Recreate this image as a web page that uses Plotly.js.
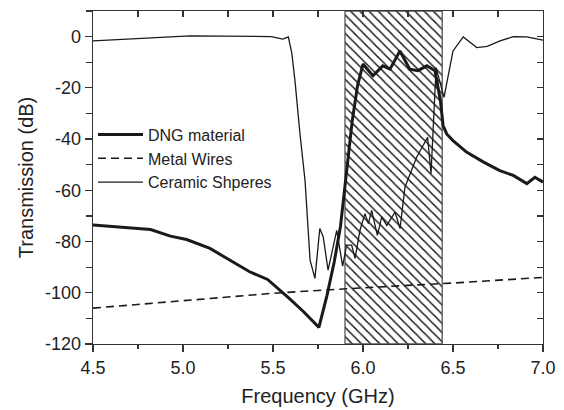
<!DOCTYPE html>
<html>
<head>
<meta charset="utf-8">
<script src="https://cdn.plot.ly/plotly-3.0.1.min.js"></script>
<style>html,body{margin:0;padding:0;background:#fff;}#chart{width:564px;height:410px;}</style>
</head>
<body>
<div id="chart"></div>
<script>
// DNG material (thick solid)
var dngFreq = [4.5, 4.67, 4.82, 4.93, 5.02, 5.15, 5.26, 5.37, 5.47, 5.54, 5.59, 5.67, 5.755, 5.8, 5.84, 5.875, 5.91, 5.94, 5.97, 6.0, 6.055, 6.11, 6.15, 6.205, 6.26, 6.305, 6.355, 6.4, 6.43, 6.445, 6.465, 6.5, 6.575, 6.67, 6.76, 6.835, 6.91, 6.955, 7.0];
var dngDb   = [-73.5, -74.3, -75.3, -77.9, -79.2, -82.7, -87.3, -91.8, -94.8, -99, -102.2, -107.4, -113.5, -101, -88, -74, -52, -33, -19, -10.7, -15.3, -11.4, -12.7, -5.6, -12.7, -13.3, -11.4, -13.3, -25, -34.7, -38, -40.6, -45.1, -49, -52.3, -54.2, -57.4, -54.9, -56.8];
// Metal Wires (dashed)
var wireFreq = [4.5, 4.75, 5.0, 5.25, 5.5, 5.75, 6.0, 6.25, 6.5, 6.75, 7.0];
var wireDb   = [-106, -104.5, -103, -101.5, -100.2, -99.1, -98, -97.1, -96.2, -95.1, -94];
// Ceramic Shperes (thin solid)
var cerFreq = [4.5, 4.85, 5.04, 5.22, 5.49, 5.555, 5.585, 5.604, 5.622, 5.65, 5.678, 5.706, 5.733, 5.76, 5.779, 5.806, 5.854, 5.887, 5.909, 5.937, 5.956, 5.983, 6.011, 6.03, 6.048, 6.08, 6.104, 6.132, 6.178, 6.206, 6.233, 6.298, 6.359, 6.378, 6.406, 6.45, 6.5, 6.557, 6.632, 6.69, 6.761, 6.835, 6.91, 7.0];
var cerDb   = [-1.7, -0.4, 0.3, 0.2, 0, -1, -0.1, -6.2, -17.2, -38, -56.2, -87.3, -94.4, -74.9, -78.2, -91.2, -75.6, -89.6, -81.4, -81.4, -86.6, -75.6, -69.1, -73, -67.8, -77.6, -70.4, -73.7, -68.5, -74.9, -58.8, -47.1, -39.3, -53.5, -12.1, -23.7, -5.6, -0.1, -4.3, -3.8, -1.7, 0, -0.1, -1.4];
// Hatched band (GHz) and axis ranges
var bandFreq = [5.9, 6.44];
var xRange = [4.5, 7.0];
var yRange = [-120, 10];
var xTickVals = [4.5, 5.0, 5.5, 6.0, 6.5, 7.0];
var xTickText = ['4.5', '5.0', '5.5', '6.0', '6.5', '7.0'];
var yTickVals = [-120, -100, -80, -60, -40, -20, 0];
var yTickText = ['-120', '-100', '-80', '-60', '-40', '-20', '0'];

var ink = '#1a1a1a';
var font = 'Liberation Sans, Arial, sans-serif';

var traces = [
  {
    type: 'bar',
    x: [(bandFreq[0] + bandFreq[1]) / 2],
    y: [yRange[1] - yRange[0]],
    base: [yRange[0]],
    width: [bandFreq[1] - bandFreq[0]],
    marker: {
      color: 'white',
      line: {color: '#555', width: 1.3},
      pattern: {shape: '\\', fgcolor: '#111', bgcolor: 'white', size: 6.5, solidity: 0.22, fillmode: 'replace'}
    },
    showlegend: false,
    hoverinfo: 'skip'
  },
  {
    type: 'scatter', mode: 'lines', name: 'DNG material',
    x: dngFreq, y: dngDb,
    line: {color: ink, width: 3}
  },
  {
    type: 'scatter', mode: 'lines', name: 'Metal Wires',
    x: wireFreq, y: wireDb,
    line: {color: ink, width: 1.6, dash: '8px,5px'}
  },
  {
    type: 'scatter', mode: 'lines', name: 'Ceramic Shperes',
    x: cerFreq, y: cerDb,
    line: {color: ink, width: 1.3}
  },
  {
    type: 'scatter', mode: 'lines', x: xRange, y: yRange, xaxis: 'x2', yaxis: 'y2',
    line: {width: 0}, opacity: 0, showlegend: false, hoverinfo: 'skip'
  }
];

var layout = {
  width: 564, height: 410,
  margin: {l: 93, r: 21, t: 11, b: 66},
  paper_bgcolor: 'white', plot_bgcolor: 'white',
  font: {family: font, color: ink, size: 18},
  showlegend: true,
  bargap: 0,
  legend: {
    x: 0.0, y: 0.68, xanchor: 'left', yanchor: 'top',
    bgcolor: 'rgba(0,0,0,0)', borderwidth: 0,
    font: {family: font, size: 16, color: '#222'},
    tracegroupgap: 0, itemwidth: 45
  },
  xaxis: {
    range: xRange, tickvals: xTickVals, ticktext: xTickText,
    ticks: 'outside', ticklen: 7, tickwidth: 1.2, tickcolor: '#333',
    minor: {dtick: 0.25, tick0: 4.5, ticks: 'outside', ticklen: 4, tickwidth: 1.2, tickcolor: '#333', showgrid: false},
    showline: true, linecolor: '#333', linewidth: 1.3, mirror: true,
    showgrid: false, zeroline: false,
    tickfont: {size: 18, family: font, color: '#222'},
    title: {text: 'Frequency (GHz)', font: {size: 20, family: font, color: '#222'}, standoff: 12}
  },
  yaxis: {
    range: yRange, tickvals: yTickVals, ticktext: yTickText,
    ticks: 'outside', ticklen: 7, tickwidth: 1.2, tickcolor: '#333',
    minor: {dtick: 10, tick0: 0, ticks: 'outside', ticklen: 6, tickwidth: 1.2, tickcolor: '#333', showgrid: false},
    showline: true, linecolor: '#333', linewidth: 1.3, mirror: true,
    showgrid: false, zeroline: false,
    tickfont: {size: 18, family: font, color: '#222'},
    title: {text: 'Transmission (dB)', font: {size: 20, family: font, color: '#222'}, standoff: 6}
  },
  xaxis2: {
    overlaying: 'x', side: 'top', range: xRange, dtick: 0.25, tick0: 4.5,
    ticks: 'inside', ticklen: 6, tickwidth: 1.2, tickcolor: '#333',
    showticklabels: false, showgrid: false, zeroline: false, showline: false
  },
  yaxis2: {
    overlaying: 'y', side: 'right', range: yRange, dtick: 10, tick0: 0,
    ticks: 'inside', ticklen: 6, tickwidth: 1.2, tickcolor: '#333',
    showticklabels: false, showgrid: false, zeroline: false, showline: false
  }
};

Plotly.newPlot('chart', traces, layout, {displayModeBar: false, staticPlot: true});
</script>
</body>
</html>
